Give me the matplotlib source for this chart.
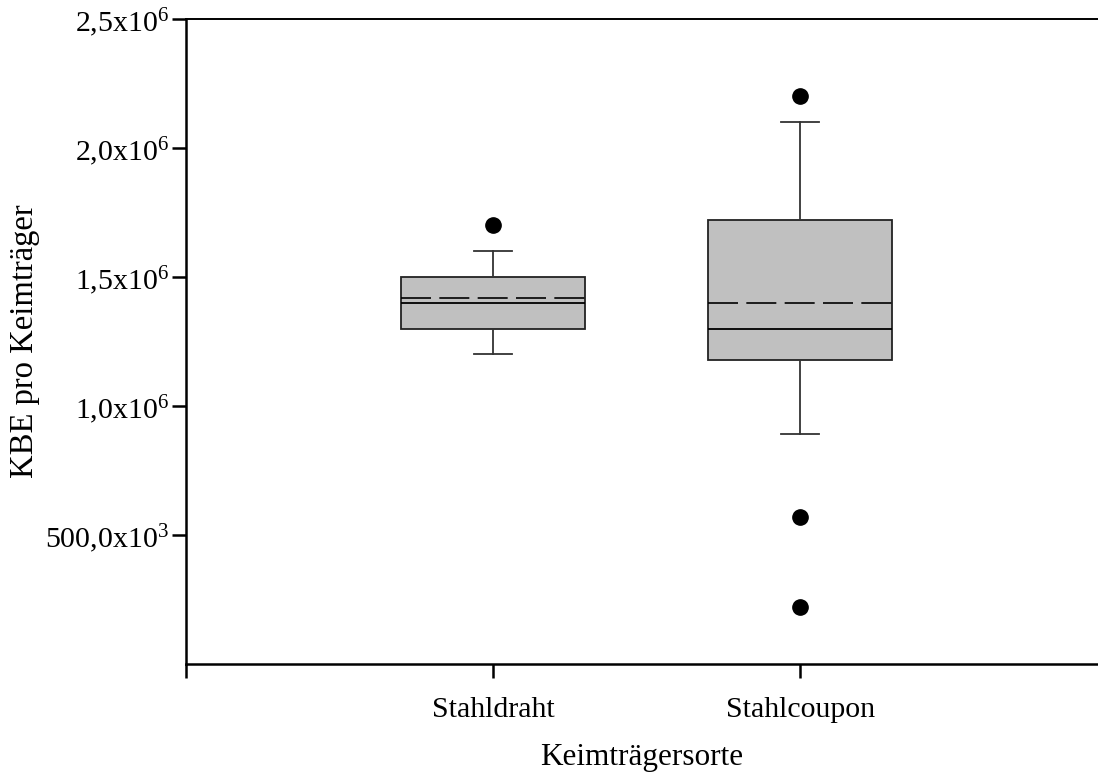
import matplotlib.pyplot as plt
from matplotlib.ticker import FuncFormatter

plt.rcParams['font.family'] = ['Liberation Serif', 'DejaVu Serif']
plt.rcParams['mathtext.fontset'] = 'custom'
plt.rcParams['mathtext.rm'] = 'Liberation Serif'
plt.rcParams['mathtext.default'] = 'regular'

# box statistics
categories = ['Stahldraht', 'Stahlcoupon']
whislo = [1.20e6, 0.89e6]
q1 = [1.30e6, 1.18e6]
med = [1.40e6, 1.30e6]
mean = [1.42e6, 1.40e6]
q3 = [1.50e6, 1.72e6]
whishi = [1.60e6, 2.10e6]
fliers = [[1.70e6], [2.20e6, 0.57e6, 0.22e6]]

yticks = [500e3, 1.0e6, 1.5e6, 2.0e6, 2.5e6]
ylabels = ['500,0x10$^{3}$', '1,0x10$^{6}$', '1,5x10$^{6}$', '2,0x10$^{6}$', '2,5x10$^{6}$']

stats = []
for i in range(len(categories)):
    stats.append(dict(label=categories[i], whislo=whislo[i], q1=q1[i], med=med[i],
                      mean=mean[i], q3=q3[i], whishi=whishi[i], fliers=fliers[i]))

fig = plt.figure(figsize=(10.98, 7.73), dpi=100)
ax = fig.add_axes([186 / 1098, 1 - 664 / 773, (1098 - 186) / 1098, (664 - 19) / 773])

ax.bxp(stats, positions=[1, 2], widths=0.6, patch_artist=True, showmeans=True,
       meanline=True, capwidths=0.125,
       boxprops=dict(facecolor='#c0c0c0', edgecolor='#222222', linewidth=1.3),
       medianprops=dict(color='black', linewidth=1.3),
       meanprops=dict(color='black', linestyle=(0, (18, 5)), linewidth=1.2),
       whiskerprops=dict(color='#333333', linewidth=1.3),
       capprops=dict(color='#333333', linewidth=1.3),
       flierprops=dict(marker='o', markerfacecolor='black', markeredgecolor='black',
                       markersize=11))

ax.set_xlim(0, 2.97)
ax.set_ylim(0, 2.5e6)
ax.set_xticks([0, 1, 2])
ax.set_xticklabels(['', 'Stahldraht', 'Stahlcoupon'])
ax.set_yticks(yticks)
ax.yaxis.set_major_formatter(FuncFormatter(lambda v, p: ylabels[yticks.index(v)] if v in yticks else ''))

ax.spines['right'].set_visible(False)
ax.spines['left'].set_linewidth(1.8)
ax.spines['bottom'].set_linewidth(1.8)
ax.spines['top'].set_linewidth(1.4)
ax.tick_params(axis='both', direction='out', length=10, width=1.8, labelsize=21.5)
ax.tick_params(axis='x', pad=14)
ax.tick_params(axis='y', pad=2)

ax.set_xlabel('Keimträgersorte', fontsize=22.5, labelpad=14)
ax.set_ylabel('KBE pro Keimträger', fontsize=23.5)
ax.yaxis.set_label_coords(-0.160, 0.5)

fig.savefig('out.png', dpi=100)
